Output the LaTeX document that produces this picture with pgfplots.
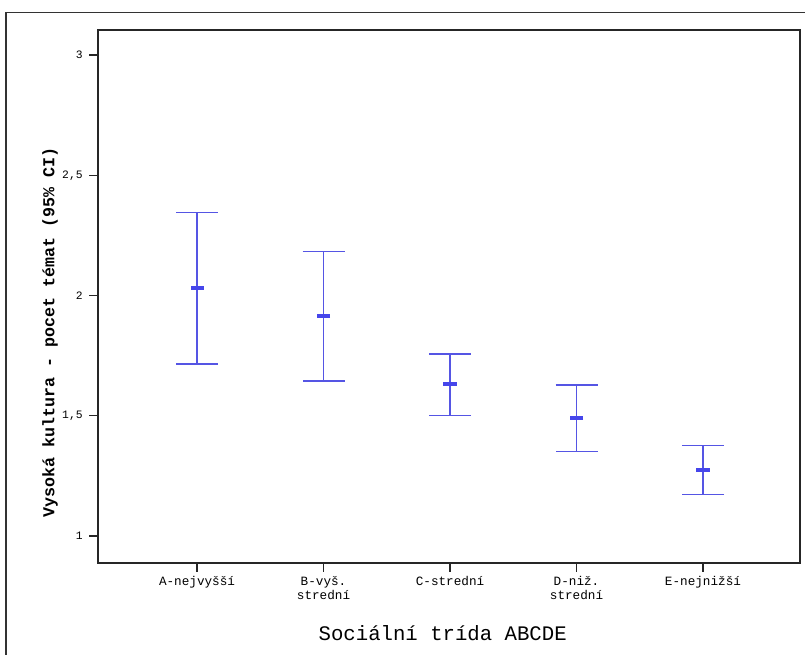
\documentclass[border=0pt]{standalone}
\usepackage{pgfplots}
\pgfplotsset{compat=1.18}
\usepackage{fontspec}
\setmainfont{Liberation Mono}
\newfontfamily\mono{Liberation Mono}
\definecolor{barblue}{RGB}{85,85,228}
\definecolor{meanblue}{RGB}{70,70,235}
\begin{document}
\begin{tikzpicture}
\useasboundingbox (-73.5pt,-69pt) rectangle (530.25pt,422.25pt);
\draw[line width=1pt,black!80] (531pt,412.75pt) -- (-69pt,412.75pt) -- (-69pt,-70pt);
\begin{axis}[
  scale only axis,
  width=526.5pt, height=399.75pt,
  xmin=-0.783, xmax=4.767,
  ymin=0.8877, ymax=3.104,
  axis line style={line width=1.1pt, black!85},
  tick align=outside,
  xtick pos=bottom, ytick pos=left,
  major tick length=6.5pt,
  every tick/.style={line width=0.9pt, black!85},
  xtick={0,1,2,3,4},
  xticklabels={A-nejvyšší,{B-vyš.\\strední},C-strední,{D-niž.\\strední},E-nejnižší},
  xticklabel style={align=center, font=\mono\fontsize{9.5}{10.5}\selectfont},
  ytick={1,1.5,2,2.5,3},
  yticklabels={1,{1,5},2,{2,5},3},
  yticklabel style={font=\mono\fontsize{8.5}{9}\selectfont, xshift=-1.5pt},
  ylabel={Vysoká kultura - pocet témat (95\% CI)},
  ylabel style={at={(axis description cs:-0.0684,0.433)}, anchor=center, font=\mono\bfseries\fontsize{12.5}{14}\selectfont},
  xlabel={Sociální trída ABCDE},
  xlabel style={at={(axis description cs:0.491,-0.131)}, anchor=center, font=\mono\fontsize{15.5}{17}\selectfont},
  clip=false,
]
\addplot[barblue, line width=1.1pt, mark=none, draw=none,
  error bars/.cd, y dir=both, y explicit,
  error mark=|,
  error bar style={line width=1.1pt, barblue},
  error mark options={barblue, line width=1.1pt, mark size=15.75pt}]
  table[x=x, y=y, y error plus=ep, y error minus=em] {
  x y ep em
  0 2.032 0.312 0.317
  1 1.913 0.271 0.269
  2 1.632 0.124 0.130
  3 1.491 0.136 0.140
  4 1.276 0.101 0.104
};
\addplot[only marks, mark=-, mark size=4.9pt, mark options={line width=3pt, meanblue}]
  coordinates {(0,2.032) (1,1.913) (2,1.632) (3,1.491) (4,1.276)};
\end{axis}
\end{tikzpicture}
\end{document}
